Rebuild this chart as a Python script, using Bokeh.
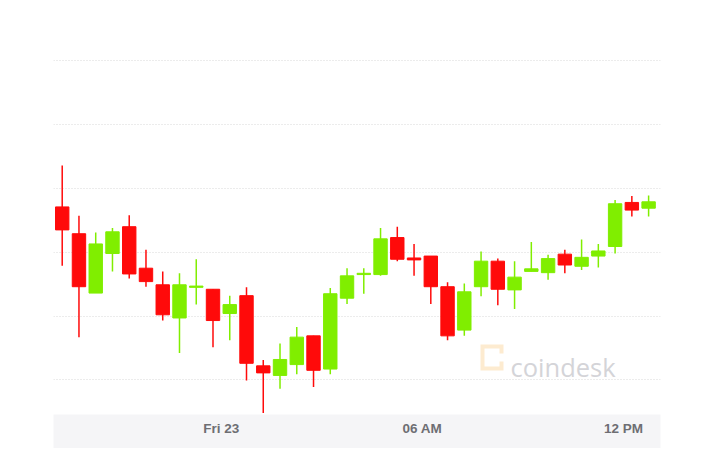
import pandas as pd
from bokeh.plotting import figure
from bokeh.models import FixedTicker, Range1d, Label, PolyAnnotation, ColumnDataSource
from bokeh.embed import file_html
from bokeh.resources import INLINE

# --- data (BTC/USD 30-minute candles) ---
opens = [10171, 10129, 10036, 10098, 10140, 10075, 10049, 9997, 10045, 10042,
         10004, 10032, 9922, 9907, 9924, 9969, 9917, 10028, 10065, 10065,
         10123, 10091, 10094, 10046, 9978, 10046, 10086, 10041, 10070, 10068,
         10097, 10078, 10094, 10109, 10178, 10169]
highs = [10236, 10157, 10131, 10138, 10158, 10104, 10070, 10067, 10089, 10042,
         10032, 10045, 9931, 9957, 9983, 9969, 10044, 10075, 10075, 10138,
         10140, 10113, 10094, 10053, 10051, 10101, 10090, 10086, 10116, 10096,
         10104, 10120, 10113, 10182, 10188, 10189]
lows = [10079, 9967, 10036, 10070, 10059, 10046, 9993, 9942, 10018, 9951,
        9962, 9899, 9848, 9886, 9909, 9889, 9909, 10019, 10035, 10063,
        10086, 10063, 10019, 9962, 9969, 10031, 10017, 10011, 10070, 10057,
        10067, 10072, 10076, 10098, 10156, 10156]
closes = [10135, 10046, 10113, 10132, 10066, 10054, 10002, 10049, 10047, 9993,
          10018, 9926, 9911, 9932, 9967, 9915, 10035, 10063, 10067, 10121,
          10089, 10088, 10046, 9969, 10038, 10086, 10042, 10061, 10074, 10090,
          10080, 10092, 10102, 10176, 10166, 10179]
start_time = "2019-08-22 19:00"
tick_times = ["2019-08-23 00:00", "2019-08-23 06:00", "2019-08-23 12:00"]
tick_labels = ["Fri 23", "06 AM", "12 PM"]
grid_levels = [9900, 10000, 10100, 10200, 10300, 10400]

GREEN = "#80ee00"
RED = "#ff0a0a"

step = pd.Timedelta(minutes=30)
times = pd.date_range(start_time, periods=len(opens), freq="30min") + step / 2
df = pd.DataFrame(dict(t=times, o=opens, h=highs, l=lows, c=closes))
df["top"] = df[["o", "c"]].max(axis=1)
df["bot"] = df[["o", "c"]].min(axis=1)
df["color"] = [GREEN if c >= o else RED for o, c in zip(df.o, df.c)]
src = ColumnDataSource(df)

x0 = times[0] - step * 0.52
x1 = times[-1] + step * 0.71

p = figure(width=700, height=448, x_axis_type="datetime",
           output_backend="svg", toolbar_location=None,
           x_range=Range1d(x0, x1), y_range=Range1d(9845.8, 10450.5),
           min_border_left=53, min_border_right=40, min_border_top=28,
           min_border_bottom=31)
p.outline_line_color = None
p.background_fill_color = "white"
p.border_fill_color = "white"

p.segment(x0="t", y0="h", x1="t", y1="l", color="color", line_width=1.5, source=src)
w = step.total_seconds() * 1000 * 0.8
p.vbar(x="t", width=w, top="top", bottom="bot", fill_color="color",
       line_color="color", line_width=1, source=src)

p.yaxis.visible = False
p.xgrid.visible = False
p.ygrid.ticker = FixedTicker(ticks=grid_levels)
p.ygrid.grid_line_color = "#d8d8d8"
p.ygrid.grid_line_dash = "1 2"
p.ygrid.grid_line_width = 1

tick_ms = [pd.Timestamp(t).value // 10**6 for t in tick_times]
ax = p.xaxis[0]
ax.ticker = FixedTicker(ticks=tick_ms)
ax.major_label_overrides = {ms: lab for ms, lab in zip(tick_ms, tick_labels)}
ax.axis_line_color = None
ax.major_tick_line_color = None
ax.minor_tick_line_color = None
ax.major_label_text_font = "Liberation Sans"
ax.major_label_text_font_style = "bold"
ax.major_label_text_font_size = "13.5px"
ax.major_label_text_color = "#6e6e73"
ax.major_label_standoff = 0
ax.axis_label = " "
ax.axis_label_text_font_size = "7px"
ax.axis_label_standoff = 0
try:
    ax.background_fill_color = "#f5f5f7"
except Exception:
    pass

# watermark (screen units relative to the plot frame, y measured upward)
p.add_layout(Label(x=457, y=48, x_units="screen", y_units="screen",
                   text="coindesk", text_font="Open Sans", text_font_size="25.5px",
                   text_color="#d4d4d8", text_baseline="alphabetic"))
cx = [427, 450, 450, 446, 446, 431, 431, 446, 446, 450, 450, 427]
cy = [70, 70, 61, 61, 66, 66, 48, 48, 53, 53, 44, 44]
p.add_layout(PolyAnnotation(xs=cx, ys=cy, xs_units="screen", ys_units="screen",
                            fill_color="#fdebd0", fill_alpha=1, line_color=None))

open("out.html", "w").write(file_html(p, INLINE))
